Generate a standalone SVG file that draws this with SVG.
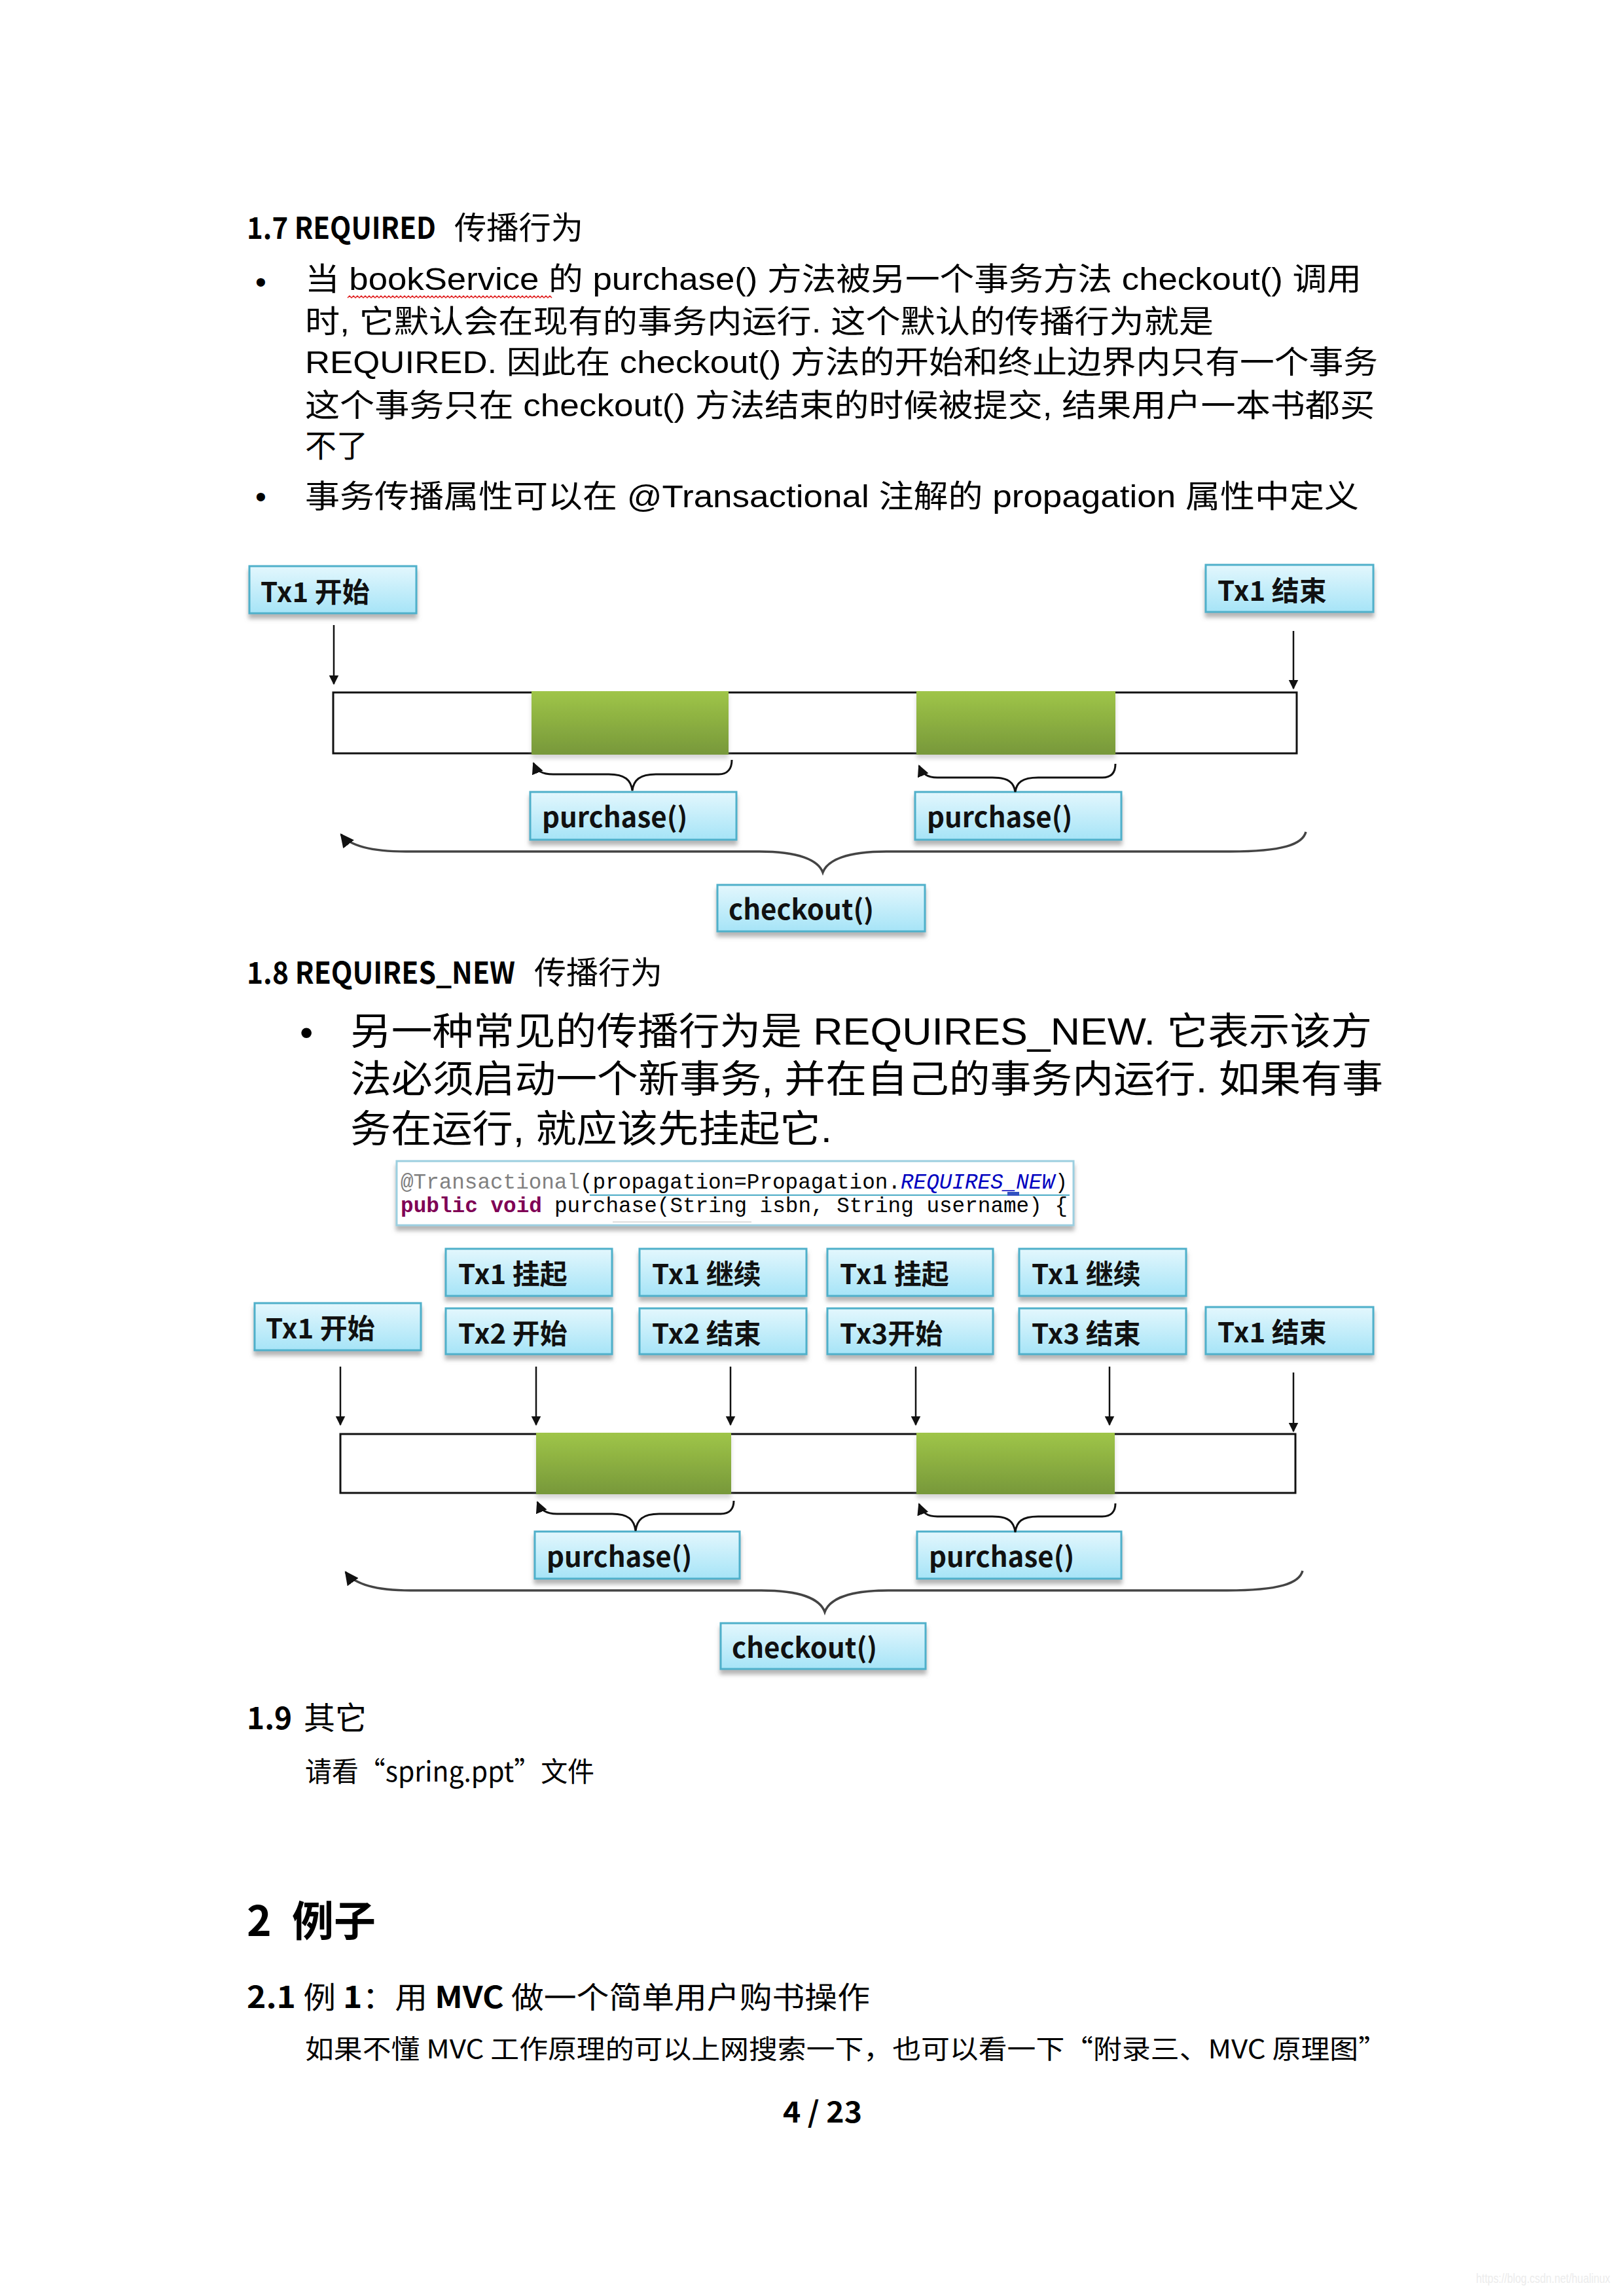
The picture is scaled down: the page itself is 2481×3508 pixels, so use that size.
<svg xmlns="http://www.w3.org/2000/svg" width="2481" height="3508" viewBox="0 0 2481 3508">
<style>
.body{font-family:"Liberation Sans","Noto Sans CJK SC",sans-serif;fill:#000}
.hd{font-family:"Noto Sans CJK SC",sans-serif;fill:#000}
.b{font-weight:bold}
.lbl{font-family:"Noto Sans CJK SC",sans-serif;font-weight:bold;font-size:42px;fill:#111}
.box{fill:url(#boxg);stroke:#4fb0ca;stroke-width:3;filter:url(#sh)}
.green{fill:url(#gg);filter:url(#sh2)}
.bar{fill:#fff;stroke:#111;stroke-width:3}
.arr{stroke:#111;stroke-width:2.5;fill:none;marker-end:url(#ah)}
.brace{stroke:#111;stroke-width:3;fill:none;marker-start:url(#ah2)}
.bigbrace{stroke:#444;stroke-width:3.5;fill:none;marker-start:url(#ah2)}
.code{font-family:"Liberation Mono",monospace;font-size:33px}
</style>
<defs>
<linearGradient id="boxg" x1="0" y1="0" x2="0" y2="1">
<stop offset="0" stop-color="#e3f7fd"/><stop offset="1" stop-color="#a6e4f7"/>
</linearGradient>
<linearGradient id="gg" x1="0" y1="0" x2="0" y2="1">
<stop offset="0" stop-color="#9fc548"/><stop offset="1" stop-color="#77983a"/>
</linearGradient>
<filter id="sh" x="-5%" y="-20%" width="110%" height="150%">
<feDropShadow dx="0" dy="7" stdDeviation="3" flood-color="#7a7a7a" flood-opacity="0.55"/>
</filter>
<filter id="sh2" x="-5%" y="-10%" width="110%" height="130%">
<feDropShadow dx="0" dy="6" stdDeviation="3" flood-color="#999" flood-opacity="0.4"/>
</filter>
<marker id="ah" viewBox="0 0 10 10" refX="9" refY="5" markerWidth="6" markerHeight="6" orient="auto" markerUnits="strokeWidth">
<path d="M0,0 L10,5 L0,10 z" fill="#111"/>
</marker>
<marker id="ah2" viewBox="0 0 10 10" refX="9" refY="5" markerWidth="6" markerHeight="6" orient="auto-start-reverse" markerUnits="strokeWidth">
<path d="M0,0 L10,5 L0,10 z" fill="#111"/>
</marker>
</defs>
<rect width="2481" height="3508" fill="#fff"/>

<!-- Section 1.7 -->
<g id="sec17">
<text class="hd" x="377" y="365" font-size="46"><tspan class="b" textLength="289" lengthAdjust="spacingAndGlyphs">1.7 REQUIRED</tspan><tspan x="694" font-size="48" textLength="197" lengthAdjust="spacingAndGlyphs">传播行为</tspan></text>
<text class="body" x="390" y="447" font-size="48">•</text>
<text class="body" x="466" y="443" font-size="48" textLength="1614" lengthAdjust="spacingAndGlyphs">当 bookService 的 purchase() 方法被另一个事务方法 checkout() 调用</text>
<path d="M531 455 l3 -3 l3 3 l3 -3 l3 3 l3 -3 l3 3 l3 -3 l3 3 l3 -3 l3 3 l3 -3 l3 3 l3 -3 l3 3 l3 -3 l3 3 l3 -3 l3 3 l3 -3 l3 3 l3 -3 l3 3 l3 -3 l3 3 l3 -3 l3 3 l3 -3 l3 3 l3 -3 l3 3 l3 -3 l3 3 l3 -3 l3 3 l3 -3 l3 3 l3 -3 l3 3 l3 -3 l3 3 l3 -3 l3 3 l3 -3 l3 3 l3 -3 l3 3 l3 -3 l3 3 l3 -3 l3 3 l3 -3 l3 3 l3 -3 l3 3 l3 -3 l3 3 l3 -3 l3 3 l3 -3 l3 3 l3 -3 l3 3 l3 -3 l3 3 l3 -3 l3 3 l3 -3 l3 3 l3 -3 l3 3 l3 -3 l3 3 l3 -3 l3 3 l3 -3 l3 3 l3 -3 l3 3 l3 -3 l3 3 l3 -3 l3 3 l3 -3 l3 3 l3 -3 l3 3 l3 -3 l3 3 l3 -3 l3 3 l3 -3 l3 3 l3 -3 l3 3 l3 -3 l3 3 l3 -3 l3 3 l3 -3 l3 3 l3 -3 l3 3 l3 -3 l3 3" fill="none" stroke="#e02020" stroke-width="1.5"/>
<text class="body" x="466" y="508" font-size="48" textLength="1388" lengthAdjust="spacingAndGlyphs">时, 它默认会在现有的事务内运行. 这个默认的传播行为就是</text>
<text class="body" x="466" y="570" font-size="48" textLength="1639" lengthAdjust="spacingAndGlyphs">REQUIRED. 因此在 checkout() 方法的开始和终止边界内只有一个事务</text>
<text class="body" x="466" y="636" font-size="48" textLength="1634" lengthAdjust="spacingAndGlyphs">这个事务只在 checkout() 方法结束的时候被提交, 结果用户一本书都买</text>
<text class="body" x="466" y="698" font-size="48" textLength="96" lengthAdjust="spacingAndGlyphs">不了</text>
<text class="body" x="390" y="775" font-size="48">•</text>
<text class="body" x="466" y="775" font-size="48" textLength="1610" lengthAdjust="spacingAndGlyphs">事务传播属性可以在 @Transactional 注解的 propagation 属性中定义</text>
</g>

<!-- Diagram 1 -->
<g id="d1-bar">
<rect class="bar" x="509" y="1058" width="1472" height="93"/>
<rect class="green" x="812" y="1056" width="301" height="97"/>
<rect class="green" x="1400" y="1056" width="304" height="97"/>
</g>
<g id="d1-tx1-start"><rect class="box" x="381" y="865" width="255" height="72"/><text class="lbl" x="398" y="920">Tx1 开始</text></g>
<g id="d1-tx1-end"><rect class="box" x="1842" y="863" width="256" height="72"/><text class="lbl" x="1860" y="918">Tx1 结束</text></g>
<g id="d1-purchase1"><rect class="box" x="810" y="1210" width="315" height="73"/><text class="lbl" x="828" y="1264">purchase()</text></g>
<g id="d1-purchase2"><rect class="box" x="1398" y="1210" width="315" height="73"/><text class="lbl" x="1416" y="1264">purchase()</text></g>
<g id="d1-checkout"><rect class="box" x="1096" y="1352" width="317" height="71"/><text class="lbl" x="1113" y="1405">checkout()</text></g>
<g id="d1-connectors">
<path class="arr" d="M510 955 L510 1045"/>
<path class="arr" d="M1976 964 L1976 1052"/>
<path class="brace" d="M815 1166 C820 1178 828 1183 845 1183 L930 1183 C955 1183 964 1192 966 1208 C968 1192 977 1183 1002 1183 L1098 1183 C1112 1183 1118 1174 1118 1161"/>
<path class="brace" d="M1404 1170 C1409 1182 1416 1188 1432 1188 L1516 1188 C1541 1188 1549 1196 1551 1210 C1553 1196 1561 1188 1586 1188 L1684 1188 C1698 1188 1704 1180 1704 1167"/>
<path class="bigbrace" d="M521 1275 C535 1293 570 1301 620 1301 L1160 1301 C1220 1301 1250 1314 1257 1333 C1264 1314 1294 1301 1354 1301 L1880 1301 C1960 1301 1990 1290 1995 1271"/>
</g>

<!-- Section 1.8 -->
<g id="sec18">
<text class="hd" x="377" y="1503" font-size="46"><tspan class="b" textLength="410" lengthAdjust="spacingAndGlyphs">1.8 REQUIRES_NEW</tspan><tspan x="816" font-size="48" textLength="196" lengthAdjust="spacingAndGlyphs">传播行为</tspan></text>
<text class="body" x="458" y="1597" font-size="58">•</text>
<text class="body" x="535" y="1596" font-size="58" textLength="1561" lengthAdjust="spacingAndGlyphs">另一种常见的传播行为是 REQUIRES_NEW. 它表示该方</text>
<text class="body" x="535" y="1669" font-size="58" textLength="1578" lengthAdjust="spacingAndGlyphs">法必须启动一个新事务, 并在自己的事务内运行. 如果有事</text>
<text class="body" x="535" y="1745" font-size="58" textLength="736" lengthAdjust="spacingAndGlyphs">务在运行, 就应该先挂起它.</text>
</g>

<g id="code">
<rect x="606" y="1774" width="1034" height="98" fill="#fff" stroke="#9ccfe0" stroke-width="3" filter="url(#sh)"/>
<line x1="901" y1="1826" x2="1634" y2="1826" stroke="#4bacc6" stroke-width="2"/>
<rect x="1539" y="1821" width="18" height="6" fill="#3050c0"/>
<line x1="936" y1="1867" x2="1148" y2="1867" stroke="#dddddd" stroke-width="2"/>
<text class="code" y="1816"><tspan x="612" fill="#808080" textLength="274" lengthAdjust="spacingAndGlyphs">@Transactional</tspan><tspan x="886" fill="#000" textLength="490" lengthAdjust="spacingAndGlyphs">(propagation=Propagation.</tspan><tspan x="1376" fill="#0000c0" font-style="italic" textLength="235" lengthAdjust="spacingAndGlyphs">REQUIRES_NEW</tspan><tspan x="1612" fill="#000" textLength="19" lengthAdjust="spacingAndGlyphs">)</tspan></text>
<text class="code" y="1852"><tspan x="612" fill="#7f0055" font-weight="bold" textLength="216" lengthAdjust="spacingAndGlyphs">public void</tspan><tspan x="847" fill="#000" textLength="784" lengthAdjust="spacingAndGlyphs">purchase(String isbn, String username) {</tspan></text>
</g>

<!-- Diagram 2 -->
<g id="d2-bar">
<rect class="bar" x="520" y="2191" width="1459" height="90"/>
<rect class="green" x="819" y="2189" width="298" height="94"/>
<rect class="green" x="1400" y="2189" width="303" height="94"/>
</g>
<g id="d2-tx1-suspend1"><rect class="box" x="681" y="1908" width="254" height="72"/><text class="lbl" x="700" y="1962">Tx1 挂起</text></g>
<g id="d2-tx1-resume1"><rect class="box" x="977" y="1908" width="255" height="72"/><text class="lbl" x="996" y="1962">Tx1 继续</text></g>
<g id="d2-tx1-suspend2"><rect class="box" x="1264" y="1908" width="253" height="72"/><text class="lbl" x="1283" y="1962">Tx1 挂起</text></g>
<g id="d2-tx1-resume2"><rect class="box" x="1557" y="1908" width="255" height="72"/><text class="lbl" x="1576" y="1962">Tx1 继续</text></g>
<g id="d2-tx1-start"><rect class="box" x="389" y="1991" width="254" height="72"/><text class="lbl" x="406" y="2045">Tx1 开始</text></g>
<g id="d2-tx2-start"><rect class="box" x="681" y="1999" width="254" height="70"/><text class="lbl" x="700" y="2053">Tx2 开始</text></g>
<g id="d2-tx2-end"><rect class="box" x="977" y="1999" width="255" height="70"/><text class="lbl" x="996" y="2053">Tx2 结束</text></g>
<g id="d2-tx3-start"><rect class="box" x="1264" y="1999" width="253" height="70"/><text class="lbl" x="1283" y="2053">Tx3开始</text></g>
<g id="d2-tx3-end"><rect class="box" x="1557" y="1999" width="255" height="70"/><text class="lbl" x="1576" y="2053">Tx3 结束</text></g>
<g id="d2-tx1-end"><rect class="box" x="1842" y="1997" width="256" height="72"/><text class="lbl" x="1860" y="2051">Tx1 结束</text></g>
<g id="d2-purchase1"><rect class="box" x="817" y="2340" width="313" height="72"/><text class="lbl" x="835" y="2394">purchase()</text></g>
<g id="d2-purchase2"><rect class="box" x="1401" y="2340" width="312" height="72"/><text class="lbl" x="1419" y="2394">purchase()</text></g>
<g id="d2-checkout"><rect class="box" x="1101" y="2480" width="313" height="70"/><text class="lbl" x="1118" y="2533">checkout()</text></g>
<g id="d2-connectors">
<path class="arr" d="M520 2088 L520 2177"/>
<path class="arr" d="M819 2088 L819 2177"/>
<path class="arr" d="M1116 2088 L1116 2177"/>
<path class="arr" d="M1399 2088 L1399 2177"/>
<path class="arr" d="M1695 2088 L1695 2177"/>
<path class="arr" d="M1976 2097 L1976 2187"/>
<path class="brace" d="M821 2295 C826 2307 834 2313 851 2313 L935 2313 C960 2313 969 2322 971 2339 C973 2322 982 2313 1007 2313 L1101 2313 C1115 2313 1121 2305 1121 2293"/>
<path class="brace" d="M1404 2298 C1409 2311 1416 2317 1432 2317 L1516 2317 C1541 2317 1549 2325 1551 2341 C1553 2325 1561 2317 1586 2317 L1684 2317 C1698 2317 1704 2309 1704 2297"/>
<path class="bigbrace" d="M528 2402 C542 2421 577 2430 627 2430 L1163 2430 C1223 2430 1253 2443 1260 2463 C1267 2443 1297 2430 1357 2430 L1875 2430 C1955 2430 1985 2419 1990 2400"/>
</g>

<!-- Section 1.9 and 2 -->
<g id="sec19">
<text class="hd" x="377" y="2642" font-size="46"><tspan class="b">1.9</tspan><tspan x="464" font-size="48">其它</tspan></text>
<text class="hd" x="466" y="2722" font-size="42" fill="#222" textLength="442" lengthAdjust="spacingAndGlyphs">请看“spring.ppt”文件</text>
</g>
<g id="sec2">
<text class="hd" x="377" y="2958" font-size="64"><tspan class="b">2</tspan><tspan x="446" font-weight="bold">例子</tspan></text>
<text class="hd" x="377" y="3068" font-size="46" textLength="952" lengthAdjust="spacingAndGlyphs"><tspan class="b">2.1</tspan>  例 <tspan class="b">1</tspan>：用 <tspan class="b">MVC</tspan> 做一个简单用户购书操作</text>
<text class="hd" x="466" y="3145" font-size="40" fill="#222" textLength="1653" lengthAdjust="spacingAndGlyphs">如果不懂 MVC 工作原理的可以上网搜索一下，也可以看一下“附录三、MVC 原理图”</text>
<text class="hd b" x="1196" y="3243" font-size="44" textLength="121" lengthAdjust="spacingAndGlyphs">4 / 23</text>
</g>
<text x="2255" y="3488" font-family="Liberation Sans, sans-serif" font-size="20" fill="#ececec" textLength="205" lengthAdjust="spacingAndGlyphs">https://blog.csdn.net/hualinux</text>
</svg>
